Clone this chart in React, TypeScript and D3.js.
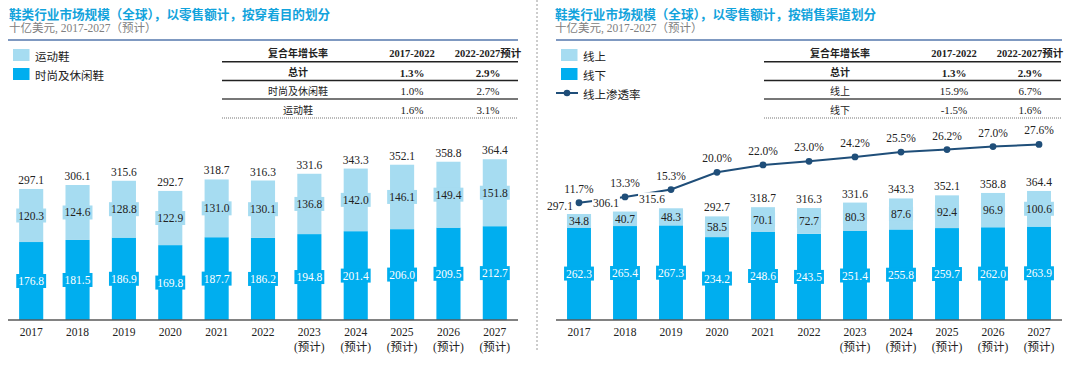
import React from 'react';
import * as d3 from 'd3';

const years = ['2017', '2018', '2019', '2020', '2021', '2022', '2023', '2024', '2025', '2026', '2027'];
const forecastFrom = '2023';

// 按穿着目的划分
const sportsShoes = [120.3, 124.6, 128.8, 122.9, 131.0, 130.1, 136.8, 142.0, 146.1, 149.4, 151.8];
const fashionShoes = [176.8, 181.5, 186.9, 169.8, 187.7, 186.2, 194.8, 201.4, 206.0, 209.5, 212.7];
const purposeTotals = [297.1, 306.1, 315.6, 292.7, 318.7, 316.3, 331.6, 343.3, 352.1, 358.8, 364.4];

// 按销售渠道划分
const onlineSales = [34.8, 40.7, 48.3, 58.5, 70.1, 72.7, 80.3, 87.6, 92.4, 96.9, 100.6];
const offlineSales = [262.3, 265.4, 267.3, 234.2, 248.6, 243.5, 251.4, 255.8, 259.7, 262.0, 263.9];
const channelTotals = [297.1, 306.1, 315.6, 292.7, 318.7, 316.3, 331.6, 343.3, 352.1, 358.8, 364.4];
const onlineShare = [11.7, 13.3, 15.3, 20.0, 22.0, 23.0, 24.2, 25.5, 26.2, 27.0, 27.6];

const cagrHeader = ['复合年增长率', '2017-2022', '2022-2027预计'];
const purposeCagr = [
  ['总计', '1.3%', '2.9%'],
  ['时尚及休闲鞋', '1.0%', '2.7%'],
  ['运动鞋', '1.6%', '3.1%'],
];
const channelCagr = [
  ['总计', '1.3%', '2.9%'],
  ['线上', '15.9%', '6.7%'],
  ['线下', '-1.5%', '1.6%'],
];

const LIGHT = '#a6dcf1';
const DARK = '#00aeef';
const NAVY = '#1f4e79';
const SERIF = '"Liberation Serif", "Noto Sans CJK SC", serif';
const CJK = '"Noto Sans CJK SC", sans-serif';

const textW = (s: string, fs: number) => {
  let w = 0;
  for (const c of s) w += c === '.' ? fs * 0.25 : c === '%' ? fs * 0.83 : fs * 0.5;
  return w;
};

interface PanelProps {
  x0: number;
  title: string;
  legend: string[];
  top: number[];
  bottom: number[];
  totals: number[];
  kPerUnit: number;
  band: [number, number];
  table: string[][];
  tableX: [number, number];
  share?: number[];
}

const Panel: React.FC<PanelProps> = ({ x0, title, legend, top, bottom, totals, kPerUnit, band, table, tableX, share }) => {
  const baseY = 320;
  const x = d3.scaleBand<string>().domain(years).range(band).paddingInner(0.48).paddingOuter(0.24);
  const y = d3.scaleLinear().domain([0, 400]).range([baseY, baseY - 400 * kPerUnit]);
  const yLine = d3.scaleLinear().domain([0, 30]).range([245.7, 135.6]);
  const bw = x.bandwidth();
  const cx = (i: number) => (x(years[i]) as number) + bw / 2;

  const line = d3.line<number>().x((_, i) => cx(i)).y((d) => yLine(d));

  const [tl, tr] = tableX;
  const colX = [tl + 76, tl + 190, tl + 266];
  const rowY = [72.7, 91, 110];

  return (
    <g>
      <text x={x0 + 9} y={13} dominantBaseline="central" fontFamily={CJK} fontWeight="bold" fontSize={12.6} fill="#12a3dc">{title}</text>
      <text x={x0 + 9} y={28} dominantBaseline="central" fontFamily={SERIF} fontSize={11.5} fill="#808080">十亿美元, 2017-2027（预计）</text>
      <line x1={band[0]} x2={band[1]} y1={40} y2={40} stroke="#5577ad" strokeWidth={1.3} />

      {/* legend */}
      {legend.map((name, i) => (
        <g key={name}>
          {i < 2 ? (
            <rect x={band[0] + 5} y={49 + i * 19} width={16.5} height={12} fill={i === 0 ? LIGHT : DARK} />
          ) : (
            <g>
              <line x1={band[0]} x2={band[0] + 22} y1={49 + i * 19 + 6} y2={49 + i * 19 + 6} stroke={NAVY} strokeWidth={2} />
              <circle cx={band[0] + 11} cy={49 + i * 19 + 6} r={3.3} fill={NAVY} />
            </g>
          )}
          <text x={band[0] + 27} y={49 + i * 19 + 6.5} dominantBaseline="central" fontFamily={CJK} fontSize={11.5} fill="#222">{name}</text>
        </g>
      ))}

      {/* CAGR table */}
      {cagrHeader.map((h, j) => (
        <text key={h} x={colX[j]} y={53.3} textAnchor="middle" dominantBaseline="central" fontFamily={SERIF} fontWeight="bold" fontSize={j === 0 ? 10 : 10.5} fill="#222">{h}</text>
      ))}
      <line x1={tl} x2={tr} y1={61.7} y2={61.7} stroke="#222" strokeWidth={1.5} />
      <line x1={tl} x2={tr} y1={80.5} y2={80.5} stroke="#222" strokeWidth={1.5} />
      <line x1={tl} x2={tr} y1={99} y2={99} stroke="#777" strokeWidth={2} />
      <line x1={tl} x2={tr} y1={118} y2={118} stroke="#777" strokeWidth={1.2} strokeDasharray="1,1" />
      {table.map((row, r) => row.map((cell, j) => (
        <text key={r + '-' + j} x={colX[j]} y={rowY[r]} textAnchor="middle" dominantBaseline="central"
          fontFamily={SERIF} fontWeight={r === 0 ? 'bold' : 'normal'} fontSize={j === 0 ? 10 : 11} fill="#222">{cell}</text>
      )))}

      {/* bars */}
      {years.map((yr, i) => {
        const bx = x(yr) as number;
        const yMid = y(bottom[i]);
        const yTop = y(bottom[i] + top[i]);
        return (
          <g key={yr}>
            <rect x={bx} y={yMid} width={bw} height={baseY - yMid} fill={DARK} />
            <rect x={bx} y={yTop} width={bw} height={yMid - yTop} fill={LIGHT} />
          </g>
        );
      })}
      <line x1={band[0]} x2={band[1]} y1={baseY} y2={baseY} stroke="#595959" strokeWidth={1.5} />

      {/* segment labels */}
      {years.map((yr, i) => {
        const yMid = y(bottom[i]);
        const yTop = y(bottom[i] + top[i]);
        const lo = bottom[i].toFixed(1);
        const hi = top[i].toFixed(1);
        const lw = textW(lo, 11.5) + 4;
        const hw = textW(hi, 11.5) + 4;
        const ly = (baseY + yMid) / 2;
        const hy = (yMid + yTop) / 2;
        return (
          <g key={yr + 'l'} fontFamily={SERIF} fontSize={11.5} textAnchor="middle">
            <rect x={cx(i) - lw / 2} y={ly - 7} width={lw} height={14} fill={DARK} />
            <text x={cx(i)} y={ly} dominantBaseline="central" fill="#fff">{lo}</text>
            <rect x={cx(i) - hw / 2} y={hy - 7} width={hw} height={14} fill={LIGHT} />
            <text x={cx(i)} y={hy} dominantBaseline="central" fill="#222">{hi}</text>
          </g>
        );
      })}

      {/* penetration line */}
      {share && (
        <g>
          <path d={line(share) as string} fill="none" stroke={NAVY} strokeWidth={2} />
          {share.map((v, i) => (
            <g key={'p' + i}>
              <circle cx={cx(i)} cy={yLine(v)} r={3.4} fill={NAVY} />
              <text x={cx(i)} y={yLine(v) - 14} textAnchor="middle" dominantBaseline="central" fontFamily={SERIF} fontSize={11.5} fill="#222">{v.toFixed(1) + '%'}</text>
            </g>
          ))}
        </g>
      )}

      {/* totals */}
      {years.map((yr, i) => {
        const ty = y(totals[i]) - 9;
        const clash = share ? Math.abs(yLine(share[i]) - ty) < 12 : false;
        const tx = cx(i) - (clash ? 19 : 0);
        const s = totals[i].toFixed(1);
        const w = textW(s, 11.5) + 2;
        return (
          <g key={yr + 't'}>
            <rect x={tx - w / 2} y={ty - 7} width={w} height={14} fill="#fff" />
            <text x={tx} y={ty} textAnchor="middle" dominantBaseline="central" fontFamily={SERIF} fontSize={11.5} fill="#222">{s}</text>
          </g>
        );
      })}

      {/* x axis labels */}
      {years.map((yr, i) => (
        <g key={yr + 'x'} fontFamily={SERIF} fontSize={11.5} fill="#222" textAnchor="middle">
          <text x={cx(i)} y={331.7} dominantBaseline="central">{yr}</text>
          {+yr >= +forecastFrom && <text x={cx(i)} y={346.7} dominantBaseline="central">(预计)</text>}
        </g>
      ))}
    </g>
  );
};

const App: React.FC = () => (
  <svg width={1080} height={372} style={{ position: 'absolute', left: 0, top: 0, background: '#fff' }}>
    <rect width={1080} height={372} fill="#fff" />
    <Panel
      x0={0}
      title="鞋类行业市场规模（全球），以零售额计，按穿着目的划分"
      legend={['运动鞋', '时尚及休闲鞋']}
      top={sportsShoes}
      bottom={fashionShoes}
      totals={purposeTotals}
      kPerUnit={0.441}
      band={[8, 518]}
      table={purposeCagr}
      tableX={[222, 518]}
    />
    <line x1={537} x2={537} y1={0} y2={352} stroke="#9a9a9a" strokeWidth={1} strokeDasharray="2,2" />
    <Panel
      x0={546}
      title="鞋类行业市场规模（全球），以零售额计，按销售渠道划分"
      legend={['线上', '线下', '线上渗透率']}
      top={onlineSales}
      bottom={offlineSales}
      totals={channelTotals}
      kPerUnit={0.354}
      band={[556, 1062]}
      table={channelCagr}
      tableX={[764, 1061]}
      share={onlineShare}
    />
  </svg>
);

export default App;
